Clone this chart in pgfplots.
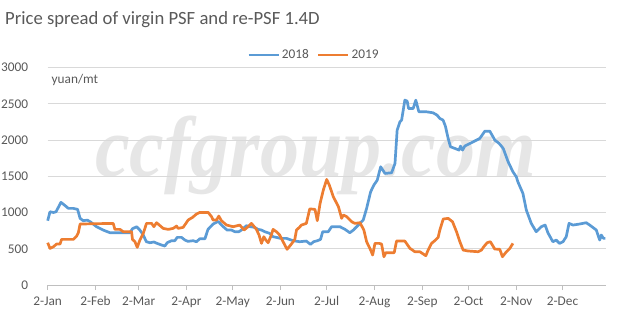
\documentclass[border=0pt]{standalone}
\usepackage{fontspec}
\setmainfont{Carlito}
\newfontfamily\wmfont{Liberation Serif}
\usepackage{pgfplots}
\usepackage{pgfplotstable}
\pgfplotsset{compat=1.18}
\definecolor{c18}{HTML}{5B9BD5}
\definecolor{c19}{HTML}{ED7D31}
\definecolor{txt}{HTML}{595959}
\definecolor{gridc}{HTML}{D9D9D9}
\definecolor{axc}{HTML}{BFBFBF}
\definecolor{wm}{HTML}{E6E6E6}
\pgfplotstableread{
day val
0 887
1.5 1010
3.7 1000
5.4 1010
8.6 1140
11 1100
13.4 1057
16.6 1057
19.4 1043
21 920
23 887
25.7 895
27.9 868
31.7 804
36 758
40.4 721
53.3 721
55 776
57.7 804
59.8 758
62 689
64 597
66.3 583
68.9 593
71 574
73.9 551
76 537
77.5 583
80.3 611
82.5 611
84 657
86.8 657
89 620
91 602
94.4 611
96.5 597
98.7 638
102 638
104 767
107.3 841
110.6 877
113.4 813
116.4 758
119.2 758
121.4 735
124 735
125.7 758
128.9 818
131.5 804
134.3 795
136.5 767
138.7 758
140.8 735
144 712
146.2 666
148.4 657
151 643
154.9 643
159.2 611
163.5 597
167.8 606
170.5 560
172.5 597
175 611
177 629
178.4 735
182 735
184.2 804
189.6 804
192.9 767
196 721
198.3 758
201.5 827
204.7 896
206.9 1057
209.5 1286
211.6 1378
213.8 1447
216 1631
218.8 1539
223.1 1548
225.3 1677
226.7 2136
228.5 2251
229.6 2274
231.7 2550
233.2 2536
234.1 2435
237.1 2435
238.8 2550
240.8 2389
245.7 2389
250 2375
252.6 2343
254.4 2297
256.5 2274
258 2191
259.8 2021
261.3 1907
264.1 1884
266.9 1861
267.8 1916
269.1 1861
270.6 1916
276 1975
280.3 2021
283.6 2122
286.8 2122
290.1 1998
292.9 1952
295.5 1884
298.7 1700
301.8 1562
304 1493
305 1424
308.3 1263
310.5 1034
313.7 850
316.9 735
320.2 804
322.7 827
324.5 721
327.7 597
329.9 620
332 574
334.3 597
336.4 666
338.2 850
340.8 827
345.1 841
349.4 859
351.6 827
355.9 758
358.1 620
359.1 689
360.6 643
361.8 643
}\dataA
\pgfplotstableread{
day val
0 583
1.5 505
3.7 528
5.8 565
8 565
9 629
16.6 629
18.8 675
19.9 721
21 841
42.5 850
43.6 767
46.9 767
49 735
54.4 735
55 629
56.6 597
58.1 519
59.8 620
62 712
64.1 850
67.4 850
68.9 804
70.6 859
72.4 827
74.9 781
78.2 767
81.4 781
83.6 813
84.6 781
87.9 795
91.1 896
94 933
96.5 979
98.7 1001
104.1 1001
106.3 942
107.3 896
109.5 896
111 951
112.7 887
116 827
120.3 804
124.6 827
127.4 758
130 804
132.2 850
135.4 767
137.1 689
138.7 574
140.2 666
141.5 620
143 583
145.1 689
146.2 767
148.4 735
150.5 689
152.7 597
155.3 492
158.1 565
160.3 629
161.4 758
163.5 800
164.6 827
167.8 850
170 1050
173.4 1043
174.9 887
176.7 1125
178.8 1309
181 1456
182.7 1378
185.3 1217
188.6 1080
190.7 919
191.8 965
194 942
197.2 873
199.3 850
202.6 859
205.1 758
206.9 597
209.5 482
210.8 413
212.3 574
215.1 574
216.6 565
218.1 390
219.4 446
224.8 446
226.3 606
231.7 606
235 505
238.2 459
241.4 459
245.3 404
246.8 482
249 574
251.1 611
253.3 657
254.4 758
256.6 910
259.8 919
262.6 873
265.2 735
267.4 597
269.5 482
272.7 469
279.2 459
281.4 482
282.9 528
285.1 583
287.2 597
290 496
293.3 492
295 390
297.6 459
299.8 505
301.8 574
}\dataB
\begin{document}
\begin{tikzpicture}
\path[use as bounding box] (0bp,0bp) rectangle (624bp,331bp);
\node[anchor=base west, inner sep=0pt, text=wm] at (95bp,154bp) {\scalebox{0.91}[1]{\wmfont\bfseries\itshape\fontsize{86bp}{86bp}\selectfont ccfgroup.com}};
\begin{axis}[
  at={(47.7bp,46bp)}, anchor=south west,
  scale only axis, width=558bp, height=217.5bp,
  xmin=0, xmax=362, ymin=0, ymax=3000,
  axis x line*=bottom, axis y line*=left,
  x axis line style={draw=axc, line width=0.75bp, -},
  y axis line style={draw=none},
  xtick={0,31,59,90,120,151,181,212,243,273,304,334},
  xticklabels={2-Jan,2-Feb,2-Mar,2-Apr,2-May,2-Jun,2-Jul,2-Aug,2-Sep,2-Oct,2-Nov,2-Dec},
  ytick={0,500,...,3000},
  ymajorgrids, grid style={draw=gridc, line width=0.75bp},
  tick align=outside, major tick length=5bp,
  xtick style={draw=axc, line width=0.75bp},
  ytick style={draw=none},
  /pgf/number format/assume math mode=true,
  /pgf/number format/1000 sep={},
  ticklabel style={font=\fontsize{13.3bp}{16bp}\selectfont, text=txt},
  yticklabel style={anchor=east, inner sep=0pt, xshift=-14.3bp},
  xticklabel style={anchor=north, inner sep=0pt, yshift=-6.5bp},
  legend style={at={(0.477,1.057)}, anchor=center, draw=none, fill=none,
    font=\fontsize{13.3bp}{16bp}\selectfont, text=txt,
    /tikz/every even column/.append style={column sep=6bp}},
  legend columns=2,
  legend image code/.code={\draw[#1] (0bp,0bp) -- (30bp,0bp);},
  clip=false,
]
\addplot[c18, line width=2.7bp, line join=round] table[x=day,y=val] {\dataA};
\addplot[c19, line width=2.7bp, line join=round] table[x=day,y=val] {\dataB};
\legend{2018,2019}
\end{axis}
\node[anchor=west, inner sep=0pt, text=txt, font=\fontsize{13.3bp}{16bp}\selectfont] at (51.5bp,251bp) {yuan/mt};
\node[anchor=base west, inner sep=0pt, text=txt, font=\fontsize{18.67bp}{22bp}\selectfont] at (5bp,306.5bp) {Price spread of virgin PSF and re-PSF 1.4D};
\end{tikzpicture}
\end{document}
